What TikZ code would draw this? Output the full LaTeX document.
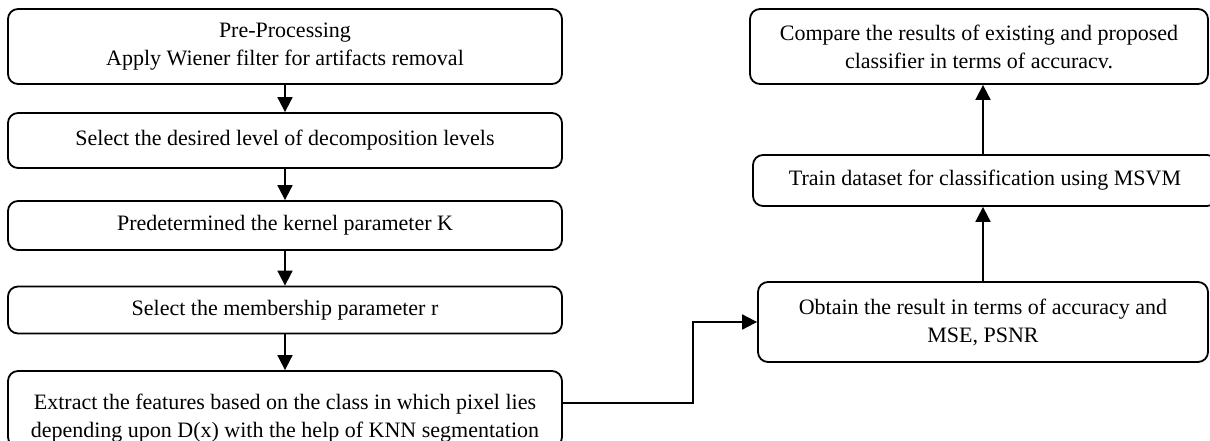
\documentclass[tikz,border=0pt]{standalone}
\usepackage{fontspec}
\setmainfont{Liberation Serif}
\usetikzlibrary{arrows.meta}
\begin{document}
\begin{tikzpicture}[x=1pt,y=-1pt,
  box/.style={draw, line width=1.8pt, rounded corners=10pt, inner sep=0pt, align=center,
    font=\fontsize{22}{28}\selectfont},
  txt/.style={inner sep=0pt, align=center, font=\fontsize{22}{28}\selectfont},
  conn/.style={line width=1.8pt, -{Triangle[width=15pt,length=15pt]}}]
\useasboundingbox (0,0) rectangle (1210,441);
% left column
\node[box, minimum width=554pt, minimum height=75pt] (b1) at (285,46.5)
  {Pre-Processing\\Apply Wiener filter for artifacts removal};
\node[box, minimum width=554pt, minimum height=55pt] (b2) at (285,140.5)
  {Select the desired level of decomposition levels};
\node[box, minimum width=554pt, minimum height=49pt] (b3) at (285,225.5)
  {Predetermined the kernel parameter K};
\node[box, minimum width=554pt, minimum height=47pt] (b4) at (285,310)
  {Select the membership parameter r};
\node[box, minimum width=554pt, minimum height=76pt] (b5) at (285,409) {};
\node[txt] (b5t) at (285,418)
  {Extract the features based on the class in which pixel lies\\depending upon D(x) with the help of KNN segmentation};
% right column
\node[box, minimum width=458pt, minimum height=75pt] (r1) at (979,46.5)
  {Compare the results of existing and proposed\\classifier in terms of accuracv.};
\node[box, minimum width=464pt, minimum height=51pt] (r2) at (985,180.5)
  {Train dataset for classification using MSVM};
\node[box, minimum width=450pt, minimum height=80pt] (r3) at (983,322)
  {Obtain the result in terms of accuracy and\\MSE, PSNR};
% connectors
\draw[conn] (b1) -- (b2);
\draw[conn] (b2) -- (b3);
\draw[conn] (b3) -- (b4);
\draw[conn] (b4.south) -- (b4.south |- b5.north);
\coordinate (bend) at (693,322);
\draw[conn] ([yshift=6pt]b5.east) -| (bend) -- (r3.west);
\draw[conn] (r3.north) -- (r3.north |- r2.south);
\draw[conn] (r3.north |- r2.north) -- (r3.north |- r1.south);
\end{tikzpicture}
\end{document}
